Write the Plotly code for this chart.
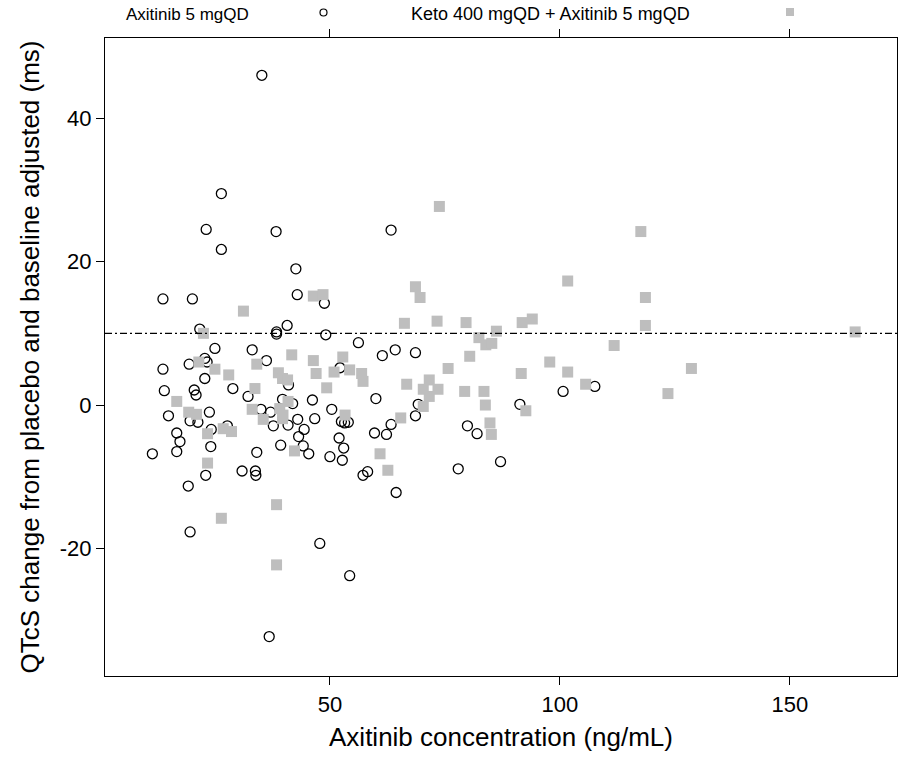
import plotly.graph_objects as go

# Axitinib 5 mgQD (open circles)
axi_conc = [35.2, 26.4, 23.1, 38.3, 26.4, 63.3, 42.6, 13.7, 20.1, 42.9,
            48.8, 40.7, 38.4, 38.4, 21.7, 49.1, 56.2, 25.0, 33.1, 64.2,
            61.4, 36.2, 22.8, 23.3, 19.4, 13.7, 52.2, 68.6, 41.0, 22.8,
            28.9, 14.0, 20.5, 20.9, 32.2, 39.7, 41.9, 46.2, 60.0, 14.9,
            23.8, 35.0, 37.1, 43.0, 46.7, 50.4, 52.5, 53.2, 54.0, 37.7,
            40.9, 19.6, 21.3, 27.7, 16.7, 24.2, 44.4, 43.2, 59.7, 62.3,
            63.3, 17.4, 16.7, 11.4, 24.1, 39.3, 44.2, 45.4, 52.0, 53.0,
            50.0, 52.7, 34.1, 57.2, 58.2, 30.9, 33.8, 33.9, 23.0, 19.2,
            64.4, 19.6, 47.8, 54.3, 36.8, 69.2, 68.6, 91.3, 100.7, 107.6,
            79.9, 82.0, 77.9, 87.1]
axi_qtc = [46.0, 29.5, 24.5, 24.2, 21.7, 24.4, 19.0, 14.8, 14.8, 15.4,
           14.2, 11.1, 10.2, 9.9, 10.6, 9.8, 8.7, 7.9, 7.7, 7.7,
           6.9, 6.2, 6.5, 6.0, 5.7, 5.0, 5.2, 7.3, 2.8, 3.7,
           2.3, 2.0, 2.1, 1.4, 1.2, 0.8, 0.2, 0.7, 0.9, -1.5,
           -1.0, -0.6, -1.0, -2.0, -1.9, -0.6, -2.3, -2.5, -2.4, -2.9,
           -2.8, -2.2, -2.4, -2.9, -3.9, -3.4, -3.4, -4.4, -3.9, -4.1,
           -2.7, -5.1, -6.5, -6.8, -5.8, -5.6, -5.7, -6.8, -4.6, -6.0,
           -7.2, -7.7, -6.6, -9.8, -9.3, -9.2, -9.2, -9.8, -9.8, -11.3,
           -12.2, -17.7, -19.3, -23.8, -32.3, 0.1, -1.5, 0.1, 1.9, 2.6,
           -2.9, -4.0, -8.9, -7.9]

# Keto 400 mgQD + Axitinib 5 mgQD (grey squares)
keto_conc = [46.4, 48.5, 31.2, 22.5, 66.2, 41.7, 46.4, 21.5, 25.0, 34.1,
             52.8, 47.0, 50.9, 54.3, 56.9, 57.2, 28.0, 38.8, 39.7, 40.8,
             49.3, 33.7, 16.7, 19.3, 21.0, 33.1, 39.1, 40.9, 39.8, 39.7,
             53.3, 35.5, 26.8, 28.6, 23.4, 42.3, 60.9, 62.6, 23.4, 38.4,
             26.4, 38.4, 73.8, 117.6, 101.7, 68.6, 69.6, 118.6, 73.3, 79.6,
             91.8, 94.0, 118.6, 86.2, 82.4, 83.9, 85.2, 111.8, 80.4, 97.8,
             75.7, 91.6, 101.7, 128.6, 66.7, 71.6, 70.3, 73.5, 71.6, 70.3,
             79.3, 83.5, 83.8, 84.8, 85.1, 65.4, 92.6, 105.6, 123.5, 164.2]
keto_qtc = [15.2, 15.4, 13.1, 10.0, 11.4, 7.0, 6.2, 6.0, 5.0, 5.7,
            6.7, 4.4, 4.6, 4.9, 4.4, 3.3, 4.2, 4.5, 3.7, 3.5,
            2.4, 2.3, 0.5, -1.0, -1.3, -0.6, -0.5, 0.5, -1.4, -1.9,
            -1.4, -2.0, -3.3, -3.7, -4.0, -6.4, -6.8, -9.1, -8.1, -13.9,
            -15.8, -22.3, 27.7, 24.2, 17.3, 16.5, 15.0, 15.0, 11.7, 11.5,
            11.5, 12.0, 11.1, 10.3, 9.4, 8.4, 8.6, 8.3, 6.8, 6.0,
            5.1, 4.4, 4.6, 5.1, 2.9, 3.5, 2.2, 2.2, 1.2, -0.2,
            1.9, 1.9, 0.0, -2.5, -4.1, -1.8, -0.8, 2.9, 1.6, 10.2]

x_ticks = [50, 100, 150]
y_ticks = [-20, 0, 20, 40]
x_ticklabels = ["50", "100", "150"]
y_ticklabels = ["-20", "0", "20", "40"]
ref_line = 10
series_names = ["Axitinib 5 mgQD", "Keto 400 mgQD + Axitinib 5 mgQD"]

FONT = "Liberation Sans, Arial, sans-serif"
GREY = "#BEBEBE"

fig = go.Figure()
fig.add_trace(go.Scatter(
    x=axi_conc, y=axi_qtc, mode="markers", name=series_names[0],
    marker=dict(symbol="circle-open", size=10, color="black",
                line=dict(color="black", width=1.3)),
    showlegend=False))
fig.add_trace(go.Scatter(
    x=keto_conc, y=keto_qtc, mode="markers", name=series_names[1],
    marker=dict(symbol="square", size=11, color=GREY, line=dict(width=0)),
    showlegend=False))

# reference line
fig.add_shape(type="line", xref="paper", yref="y", x0=0, x1=1,
              y0=ref_line, y1=ref_line,
              line=dict(color="black", width=1.2, dash="7px,3px,2px,3px"))

# key above the plot (text then symbol)
key_y = 1.0 + (38 - 14) / 638
fig.add_annotation(text=series_names[0], xref="paper", yref="paper",
                   x=(124 - 105) / 792, y=key_y,
                   xanchor="left", yanchor="middle", showarrow=False,
                   font=dict(family=FONT, size=17, color="black"))
fig.add_annotation(text=series_names[1], xref="paper", yref="paper",
                   x=(409 - 105) / 792, y=key_y,
                   xanchor="left", yanchor="middle", showarrow=False,
                   font=dict(family=FONT, size=18, color="black"))
fig.add_shape(type="circle", xref="paper", yref="paper",
              x0=(320 - 105) / 792, x1=(327 - 105) / 792,
              y0=1.0 + (38 - 16) / 638, y1=1.0 + (38 - 9) / 638,
              line=dict(color="black", width=1.2))
fig.add_shape(type="rect", xref="paper", yref="paper",
              x0=(786 - 105) / 792, x1=(794 - 105) / 792,
              y0=1.0 + (38 - 16) / 638, y1=1.0 + (38 - 8) / 638,
              line=dict(width=0), fillcolor=GREY)

fig.update_layout(
    width=900, height=759,
    margin=dict(l=105, r=3, t=38, b=83),
    paper_bgcolor="white", plot_bgcolor="white",
    font=dict(family=FONT, color="black"),
    xaxis=dict(range=[1.1, 173.3], tickvals=x_ticks, ticktext=x_ticklabels,
               ticks="outside", ticklen=8, tickwidth=1, tickcolor="black",
               showline=True, linecolor="black", linewidth=1.2,
               mirror="allticks", showgrid=False, zeroline=False,
               tickfont=dict(size=22),
               title=dict(text="Axitinib concentration (ng/mL)",
                          font=dict(size=26), standoff=12)),
    yaxis=dict(range=[-37.8, 51.2], tickvals=y_ticks, ticktext=y_ticklabels,
               ticks="outside", ticklen=8, tickwidth=1, tickcolor="black",
               showline=True, linecolor="black", linewidth=1.2,
               mirror=True, showgrid=False, zeroline=False,
               tickfont=dict(size=22),
               title=dict(text="QTcS change from placebo and baseline adjusted (ms)",
                          font=dict(size=26), standoff=12)),
)

fig.write_html("out.html")
